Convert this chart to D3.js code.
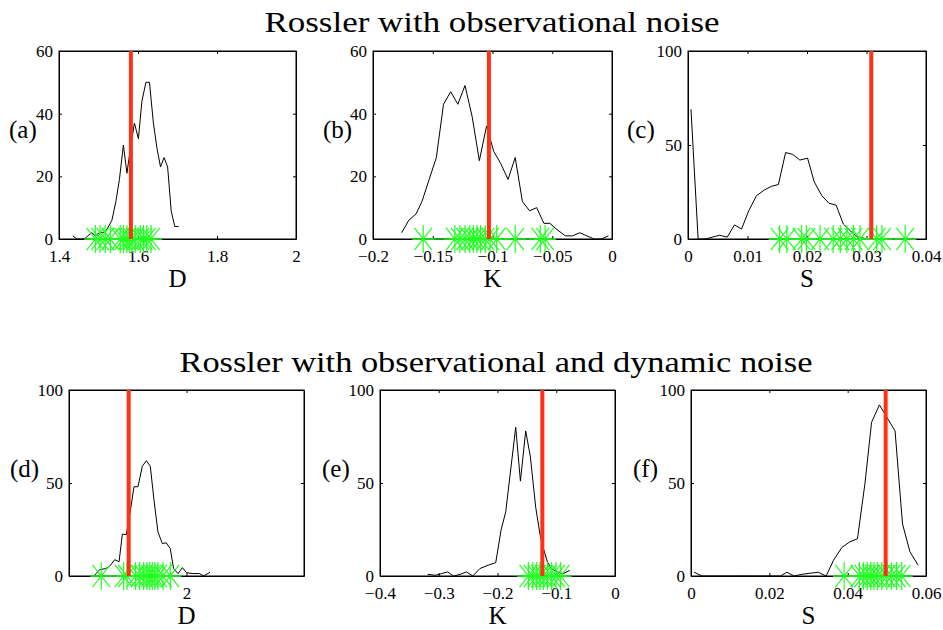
<!DOCTYPE html>
<html>
<head>
<meta charset="utf-8">
<script src="https://cdn.jsdelivr.net/npm/d3@7"></script>
<style>
  body { margin: 0; background: #fff; }
  svg { display: block; }
  text { font-family: "Liberation Serif", "Times New Roman", serif; fill: #000; }
</style>
</head>
<body>
<svg id="chart" width="943" height="630"></svg>
<script>
// ---- data ----
// (a) Rossler, observational noise, D
var aX = [1.435, 1.445, 1.454, 1.464, 1.473, 1.483, 1.492, 1.502, 1.511, 1.521, 1.534, 1.544, 1.553, 1.563, 1.572,
          1.582, 1.591, 1.601, 1.610, 1.620, 1.629, 1.639, 1.648, 1.657, 1.666, 1.675, 1.684, 1.693, 1.703]
var aY = [1, 0, 0, 0, 1, 2, 1, 2, 2, 3, 6, 12, 19, 30, 21, 30, 37, 32, 44, 50, 50, 37, 29, 23, 26, 23, 9, 4, 4]
var aStars = [1.492, 1.504, 1.517, 1.530, 1.555, 1.563, 1.572, 1.579, 1.585, 1.593, 1.606, 1.614, 1.622, 1.633]
var aTrue = 1.582

// (b) K
var bX = [-0.176, -0.170, -0.164, -0.159, -0.153, -0.147, -0.141, -0.135, -0.129, -0.123, -0.117, -0.111, -0.105,
          -0.099, -0.093, -0.087, -0.081, -0.075, -0.069, -0.063, -0.057, -0.052, -0.046, -0.039, -0.033, -0.027,
          -0.021, -0.015, -0.009, -0.003]
var bY = [2, 6, 8, 12, 19, 26, 43, 47, 43, 49, 39, 25, 36, 28, 24, 19, 26, 12, 9, 10, 5, 5, 3, 1, 1, 2, 1, 0, 0, 1]
var bStars = [-0.158, -0.1315, -0.1273, -0.123, -0.119, -0.116, -0.113, -0.110, -0.106, -0.102, -0.0965, -0.081, -0.060, -0.056]
var bTrue = -0.103

// (c) S
var cX = [0.0005, 0.0017, 0.0029, 0.0041, 0.0053, 0.0066, 0.0078, 0.0090, 0.0102, 0.0115, 0.0128, 0.0140, 0.0152,
          0.0164, 0.0176, 0.0188, 0.0201, 0.0212, 0.0225, 0.0237, 0.0249, 0.0261, 0.0274, 0.0285, 0.0298]
var cY = [69, 0, 0, 1, 2, 1, 7.5, 5.3, 15, 23, 26, 28, 29, 46, 45, 42, 43, 30.5, 23, 19, 18, 8, 4, 1, 0.3]
var cStars = [0.0154, 0.0166, 0.0191, 0.0199, 0.0222, 0.0244, 0.0256, 0.0267, 0.0278, 0.0289, 0.0317, 0.0326, 0.0365]
var cTrue = 0.0308

// (d) Rossler, observational + dynamic noise, D
var dX = [1.218, 1.261, 1.312, 1.346, 1.389, 1.426, 1.454, 1.488, 1.522, 1.553, 1.587, 1.624, 1.658, 1.692, 1.723,
          1.757, 1.794, 1.828, 1.862, 1.890, 1.928, 1.965, 2.000, 2.055, 2.110, 2.146, 2.200]
var dY = [0.4, 3.4, 4, 5.2, 8.8, 7.6, 22.5, 22.3, 35, 48, 48, 59, 62, 59, 41, 23.7, 17.5, 17.8, 14.7, 4, 1.3, 4.5,
          1.8, 1.3, 1.3, 0, 2]
var dStars = [1.275, 1.465, 1.494, 1.567, 1.601, 1.635, 1.664, 1.687, 1.709, 1.729, 1.757, 1.80, 1.862]
var dTrue = 1.508

// (e) K
var eX = [-0.319, -0.306, -0.295, -0.285, -0.275, -0.263, -0.253, -0.242, -0.230, -0.216, -0.203, -0.194, -0.186,
          -0.169, -0.161, -0.152, -0.144, -0.135, -0.128, -0.122, -0.115, -0.108, -0.099, -0.088, -0.077]
var eY = [0.9, 0.4, 1.3, 2.2, 0, 0.9, 2.2, 0, 4, 5.8, 7.2, 24.6, 34.5, 80, 51, 78, 64, 37, 23, 15, 7.5, 4, 2.2, 1.3, 3]
var eStars = [-0.1475, -0.140, -0.1333, -0.1277, -0.122, -0.1152, -0.108, -0.1004, -0.0925]
var eTrue = -0.1237

// (f) S
var fX = [0.0008, 0.0028, 0.0048, 0.0068, 0.0088, 0.0108, 0.0128, 0.0148, 0.0168, 0.0188, 0.0208, 0.0228, 0.0245,
          0.0263, 0.0283, 0.0304, 0.0325, 0.0345, 0.0364, 0.0385, 0.0405, 0.0425, 0.0444, 0.0461, 0.0481, 0.0521,
          0.0540, 0.0559, 0.0580]
var fY = [2, 0, 0, 0, 0, 0, 0, 0, 0, 0, 0, 0, 2, 0, 0.9, 1.5, 2, 0, 8.5, 15.3, 18.3, 20, 49.5, 82.6, 92, 78, 28, 13, 5.8]
var fStars = [0.0391, 0.0430, 0.0440, 0.0450, 0.0459, 0.0467, 0.0476, 0.0487, 0.0500, 0.0512, 0.0525, 0.0538]
var fTrue = 0.0497

// axis ranges and ticks
var xDomains = [[1.4, 2], [-0.2, 0], [0, 0.04], [1, 3], [-0.4, 0], [0, 0.06]]
var yDomains = [[0, 60], [0, 60], [0, 100], [0, 100], [0, 100], [0, 100]]
var xTicks = [[1.4, 1.6, 1.8, 2], [-0.2, -0.15, -0.1, -0.05, 0], [0, 0.01, 0.02, 0.03, 0.04],
              [2], [-0.4, -0.3, -0.2, -0.1, 0], [0, 0.02, 0.04, 0.06]]
var yTicks = [[0, 20, 40, 60], [0, 20, 40, 60], [0, 50, 100], [0, 50, 100], [0, 50, 100], [0, 50, 100]]
var panelNames = ["(a)", "(b)", "(c)", "(d)", "(e)", "(f)"]
var axisNames = ["D", "K", "S", "D", "K", "S"]
var titles = ["Rossler with observational noise", "Rossler with observational and dynamic noise"]

var histX = [aX, bX, cX, dX, eX, fX]
var histY = [aY, bY, cY, dY, eY, fY]
var stars = [aStars, bStars, cStars, dStars, eStars, fStars]
var truth = [aTrue, bTrue, cTrue, dTrue, eTrue, fTrue]

// ---- layout (pixels) ----
var boxes = [
  {x0: 59, x1: 296, y0: 51, y1: 239, lab: 9},
  {x0: 373, x1: 612, y0: 51, y1: 239, lab: 323},
  {x0: 688, x1: 926, y0: 51, y1: 239, lab: 627},
  {x0: 69, x1: 304, y0: 390, y1: 576, lab: 10},
  {x0: 380, x1: 615, y0: 390, y1: 576, lab: 322},
  {x0: 691, x1: 926, y0: 390, y1: 576, lab: 633}
]

var svg = d3.select("#chart")
var fmt = d => String(d).replace("-", "\u2212")

// titles
svg.append("text").attr("x", 492).attr("y", 32).attr("text-anchor", "middle")
  .attr("font-size", 30).attr("textLength", 455).attr("lengthAdjust", "spacingAndGlyphs").text(titles[0])
svg.append("text").attr("x", 496).attr("y", 372).attr("text-anchor", "middle")
  .attr("font-size", 30).attr("textLength", 633).attr("lengthAdjust", "spacingAndGlyphs").text(titles[1])

// asterisk marker like matlab '*'
function starPath(rx, ry) {
  var dx = rx * 0.8, dy = ry * 0.8
  return "M" + (-rx) + ",0L" + rx + ",0M0," + (-ry) + "L0," + ry +
         "M" + (-dx) + "," + (-dy) + "L" + dx + "," + dy +
         "M" + (-dx) + "," + dy + "L" + dx + "," + (-dy)
}

boxes.forEach(function(b, i) {
  var sx = d3.scaleLinear().domain(xDomains[i]).range([b.x0, b.x1])
  var sy = d3.scaleLinear().domain(yDomains[i]).range([b.y1, b.y0])
  var g = svg.append("g")

  // frame + ticks
  g.append("rect").attr("x", b.x0).attr("y", b.y0).attr("width", b.x1 - b.x0).attr("height", b.y1 - b.y0)
    .attr("fill", "none").attr("stroke", "#000").attr("stroke-width", 1)

  var bottom = g.append("g").attr("transform", "translate(0," + b.y1 + ")")
    .call(d3.axisBottom(sx).tickValues(xTicks[i]).tickFormat(fmt).tickSizeInner(-3).tickSizeOuter(0).tickPadding(11))
  var top = g.append("g").attr("transform", "translate(0," + b.y0 + ")")
    .call(d3.axisTop(sx).tickValues(xTicks[i]).tickFormat("").tickSizeInner(-3).tickSizeOuter(0))
  var left = g.append("g").attr("transform", "translate(" + b.x0 + ",0)")
    .call(d3.axisLeft(sy).tickValues(yTicks[i]).tickFormat(fmt).tickSizeInner(-3).tickSizeOuter(0).tickPadding(6))
  var right = g.append("g").attr("transform", "translate(" + b.x1 + ",0)")
    .call(d3.axisRight(sy).tickValues(yTicks[i]).tickFormat("").tickSizeInner(-3).tickSizeOuter(0))
  ;[bottom, top, left, right].forEach(function(a) {
    a.select(".domain").attr("stroke", "#000")
    a.selectAll("text").attr("font-size", 17).attr("fill", "#000")
  })

  // histogram line
  var pts = histX[i].map((x, k) => [x, histY[i][k]])
  g.append("path").attr("fill", "none").attr("stroke", "#000").attr("stroke-width", 1)
    .attr("d", d3.line().x(d => sx(d[0])).y(d => sy(d[1]))(pts))

  // green estimates along the baseline
  var ext = d3.extent(stars[i])
  g.append("line").attr("x1", sx(ext[0]) - 11).attr("x2", sx(ext[1]) + 11)
    .attr("y1", sy(0)).attr("y2", sy(0)).attr("stroke", "#1e9e1e").attr("stroke-width", 2)
  g.selectAll("path.star").data(stars[i]).enter().append("path").attr("class", "star")
    .attr("d", starPath(11, 14))
    .attr("transform", d => "translate(" + sx(d) + "," + sy(0) + ")")
    .attr("fill", "none").attr("stroke", "#22ff22").attr("stroke-width", 1.2)

  // true value
  g.append("line").attr("x1", sx(truth[i])).attr("x2", sx(truth[i]))
    .attr("y1", sy(yDomains[i][0])).attr("y2", sy(yDomains[i][1]))
    .attr("stroke", "#ff3015").attr("stroke-width", 4)

  // labels
  g.append("text").attr("x", (b.x0 + b.x1) / 2).attr("y", b.y1 + 48).attr("text-anchor", "middle")
    .attr("font-size", 25).text(axisNames[i])
  g.append("text").attr("x", b.lab).attr("y", b.y0 + 87).attr("font-size", 25).text(panelNames[i])
})
</script>
</body>
</html>
